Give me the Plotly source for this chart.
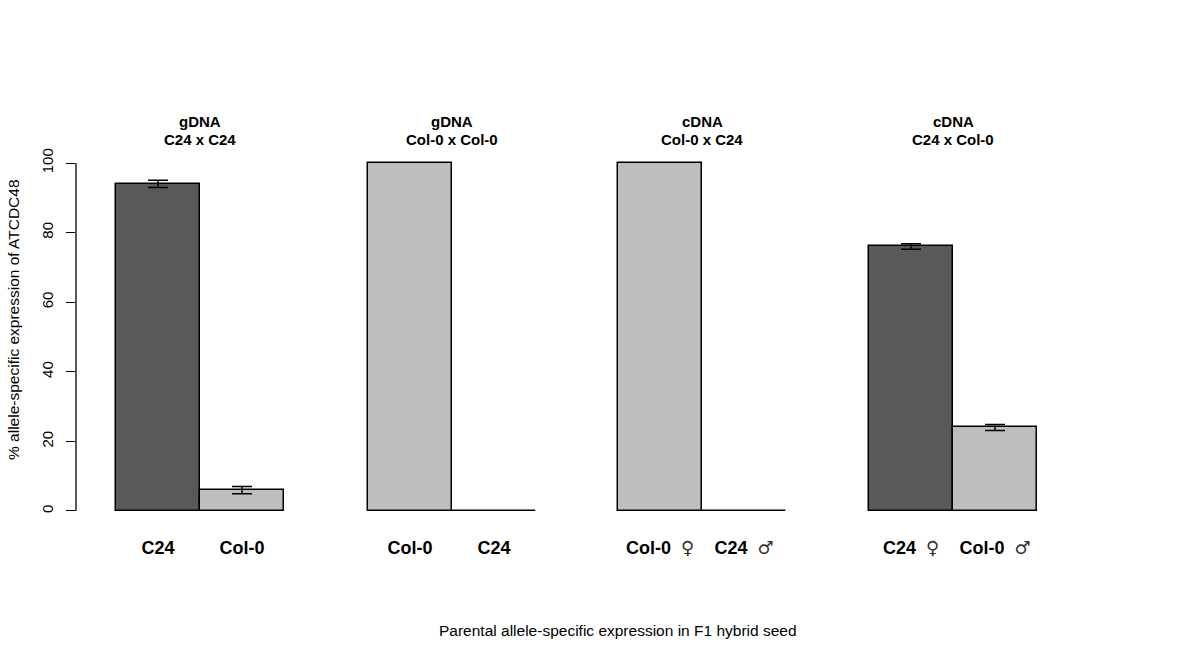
import plotly.graph_objects as go

# panel data
panel_kind = ["gDNA", "gDNA", "cDNA", "cDNA"]
panel_cross = ["C24 x C24", "Col-0 x Col-0", "Col-0 x C24", "C24 x Col-0"]
bar_labels = [["C24", "Col-0"], ["Col-0", "C24"], ["Col-0 ♀", "C24 ♂"], ["C24 ♀", "Col-0 ♂"]]
values = [[94, 6], [100, 0], [100, 0], [76, 24]]
errors = [[1.05, 1.05], [0, 0], [0, 0], [0.8, 0.85]]
allele_is_c24 = [[True, False], [False, True], [False, True], [True, False]]
y_ticks = [0, 20, 40, 60, 80, 100]

DARK = "#595959"
LIGHT = "#BEBEBE"
FONT = "Liberation Sans, Arial, sans-serif"

W, H = 1200, 659
bar_left_px = [116, 368, 618, 869]
bar_px = 84
pad_l, pad_r = 40, 16

def px_x(p):
    return p / W

def px_y(p):
    return (H - p) / H

def sym_label(s):
    # sex symbols drawn thin, like the original
    for sym in ["♀", "♂"]:
        s = s.replace(" " + sym, "\u00a0\u00a0<span style=\"font-family:DejaVu Sans;font-weight:normal;"
                      "font-size:18px;fill:#333\">" + sym + "</span>")
    return s

fig = go.Figure()

for i in range(4):
    sfx = "" if i == 0 else str(i + 1)
    cols = [DARK if c else LIGHT for c in allele_is_c24[i]]
    has_err = any(e > 0 for e in errors[i])
    labels = [sym_label(s) for s in bar_labels[i]]
    fig.add_trace(go.Bar(
        x=labels, y=values[i],
        xaxis="x" + sfx, yaxis="y" + sfx,
        marker=dict(color=cols, line=dict(color="black", width=1.5)),
        error_y=dict(type="data", array=errors[i], visible=has_err,
                     color="black", thickness=1.5, width=10),
        showlegend=False,
    ))
    left = bar_left_px[i] - pad_l
    right = bar_left_px[i] + 2 * bar_px + pad_r
    fig.update_layout(**{
        "xaxis" + sfx: dict(
            domain=[px_x(left), px_x(right)],
            anchor="y" + sfx,
            type="category",
            range=[-0.5 - pad_l / bar_px, 1.5 + pad_r / bar_px],
            showgrid=False, zeroline=False, showline=False, ticks="",
            tickfont=dict(family=FONT, size=18, color="black", weight="bold"),
            ticklabelstandoff=10,
        ),
        "yaxis" + sfx: dict(
            domain=[px_y(524.9), px_y(149.1)],
            anchor="x" + sfx,
            range=[-4, 104],
            showgrid=False, zeroline=False, showline=False,
            tickvals=y_ticks if i == 0 else [],
            ticks="outside" if i == 0 else "",
            ticklen=9, tickwidth=1.3, tickcolor="black",
            tickangle=-90,
            tickfont=dict(family=FONT, size=15, color="black"),
            showticklabels=(i == 0),
            ticklabelstandoff=7,
        ),
    })
    fig.add_annotation(
        x=0.5, xref="x" + sfx, y=px_y(121), yref="paper",
        text="<b>" + panel_kind[i] + "</b>",
        showarrow=False, font=dict(family=FONT, size=15, color="black"),
        xanchor="center", yanchor="middle",
    )
    fig.add_annotation(
        x=0.5, xref="x" + sfx, y=px_y(139), yref="paper",
        text="<b>" + panel_cross[i] + "</b>",
        showarrow=False, font=dict(family=FONT, size=15, color="black"),
        xanchor="center", yanchor="middle",
    )

# y axis line spans only the tick range, as in base R
fig.add_shape(type="line", xref="x domain", yref="y", x0=0, x1=0, y0=0, y1=100,
              line=dict(color="black", width=1.3))

fig.add_annotation(
    x=px_x(13), xref="paper", y=px_y(320), yref="paper",
    text="% allele-specific expression of ATCDC48", textangle=-90,
    showarrow=False, font=dict(family=FONT, size=15.5, color="black"),
    xanchor="center", yanchor="middle",
)
fig.add_annotation(
    x=px_x(618), xref="paper", y=px_y(630), yref="paper",
    text="Parental allele-specific expression in F1 hybrid seed",
    showarrow=False, font=dict(family=FONT, size=15.5, color="black"),
    xanchor="center", yanchor="middle",
)

fig.update_layout(
    width=W, height=H,
    margin=dict(l=0, r=0, t=0, b=0),
    paper_bgcolor="white", plot_bgcolor="white",
    bargap=0,
)

fig.write_html("out.html", config={"displayModeBar": False},
               post_script="document.body.style.margin='0';")
